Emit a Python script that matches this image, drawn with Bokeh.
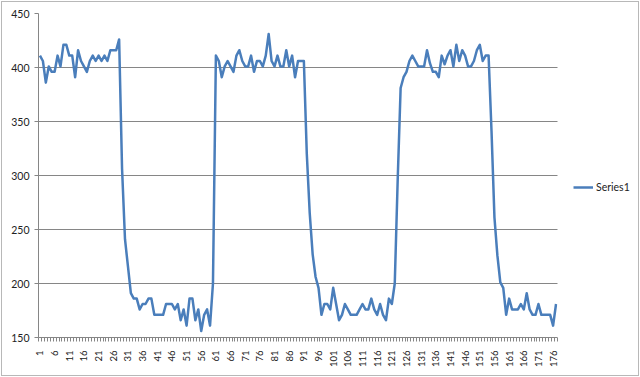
import math
from bokeh.plotting import figure
from bokeh.models import Range1d, FixedTicker, Legend, LegendItem, BoxAnnotation
from bokeh.embed import file_html
from bokeh.resources import INLINE

series_name = "Series1"
values = [
    411, 406, 386, 401, 396, 396, 411, 401, 421, 421, 411, 411, 391, 416, 406, 401, 396, 406, 411, 406,
    411, 406, 411, 406, 416, 416, 416, 426,
    306, 241, 216, 191, 186, 186, 176, 181, 181, 186, 186,
    171, 171, 171, 171, 181, 181, 181, 176, 181, 166, 176, 161, 186, 186, 166, 176, 156, 171, 176, 161, 200,
    411, 406, 391, 401, 406, 401, 396, 411, 416, 406, 401, 401, 411, 396, 406, 406, 401, 411, 431, 406,
    401, 411, 401, 401, 416, 401, 411, 391, 406, 406, 406,
    320, 265, 227, 206, 196, 171, 181, 181, 176, 196, 181, 166, 171, 181, 176, 171, 171, 171, 176, 181,
    176, 176, 186, 176, 171, 181, 171, 166, 186, 181, 200,
    296, 381, 391, 396, 406, 411, 406, 401, 401, 401, 416, 404, 396, 396, 391, 411, 403, 411, 416, 401,
    421, 406, 416, 411, 401, 401, 406, 416, 421, 406, 411, 411,
    341, 261, 226, 201, 196, 171, 186, 176, 176, 176, 181, 176, 191, 176, 171, 171, 181, 171, 171, 171,
    171, 161, 181,
]
categories = list(range(1, len(values) + 1))
x_tick_labels = list(range(1, len(values), 5))
y_ticks = [150, 200, 250, 300, 350, 400, 450]

n = len(values)
FONT = "Lato"
GRID = "#868686"

# frame spans the full width; the plot area proper is the first 519 px of its 600 px
FRAME_W = 600
PLOT_W = 519
x_end = 0.5 + n * FRAME_W / PLOT_W

p = figure(width=636, height=373, output_backend="svg", toolbar_location=None,
           x_range=Range1d(0.5, x_end), y_range=Range1d(150, 450),
           min_border_left=36, min_border_right=0, min_border_top=11, min_border_bottom=38)
p.outline_line_color = None
p.background_fill_color = "white"
p.border_fill_color = "white"
p.styles = {"outline": "1px solid #b8b8b8", "margin": "2px"}

r = p.line(categories, values, line_color="#4A7EBB", line_width=2.5, line_join="round")

# blank out the legend area to the right of the plot area
p.add_layout(BoxAnnotation(left=n + 0.5, fill_color="white", fill_alpha=1.0, line_color=None))

xt = FixedTicker(ticks=x_tick_labels, minor_ticks=[i + 0.5 for i in range(0, n + 1)])
p.xaxis.ticker = xt
p.xaxis.bounds = (0.5, n + 0.5)
p.xaxis.major_tick_out = 0
p.xaxis.major_tick_in = 0
p.xaxis.minor_tick_out = 4
p.xaxis.minor_tick_in = 0
p.xaxis.minor_tick_line_color = GRID
p.xaxis.axis_line_color = GRID
p.xaxis.major_label_orientation = math.pi / 2
p.xaxis.major_label_standoff = 9
p.xaxis.major_label_text_font = FONT
p.xaxis.major_label_text_font_size = "9.5px"
p.xaxis.major_label_text_color = "#222222"
p.xgrid.visible = False

yt = FixedTicker(ticks=y_ticks, minor_ticks=[])
p.yaxis.ticker = yt
p.ygrid.ticker = yt
p.yaxis.major_tick_out = 4
p.yaxis.major_tick_in = 0
p.yaxis.minor_tick_line_color = None
p.yaxis.major_tick_line_color = GRID
p.yaxis.axis_line_color = GRID
p.yaxis.major_label_standoff = 5
p.yaxis.major_label_text_font = FONT
p.yaxis.major_label_text_font_size = "10.5px"
p.yaxis.major_label_text_color = "#222222"
p.ygrid.grid_line_color = GRID
p.ygrid.grid_line_width = 1

legend = Legend(items=[LegendItem(label=series_name, renderers=[r])],
                location=(535, 142), padding=0, margin=0, spacing=0,
                glyph_width=20, glyph_height=16, label_standoff=3,
                label_text_font=FONT, label_text_font_size="10.5px",
                label_text_color="#222222",
                border_line_color=None, background_fill_alpha=0)
p.add_layout(legend, "center")

open("out.html", "w").write(file_html(p, INLINE))
